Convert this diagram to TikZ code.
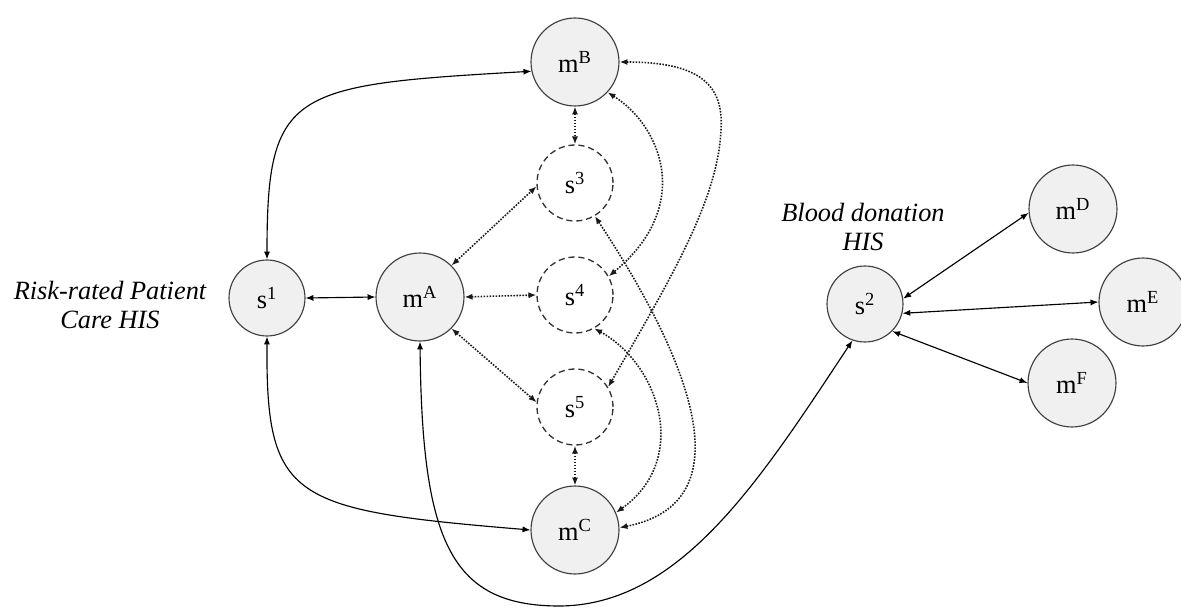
\documentclass[tikz,border=0pt]{standalone}
\usepackage{fontspec}
\setmainfont{LiberationSerif}[Extension=.ttf,UprightFont=*-Regular,ItalicFont=*-Italic,BoldFont=*-Bold,BoldItalicFont=*-BoldItalic]
\usetikzlibrary{arrows.meta}
\begin{document}
\begin{tikzpicture}[x=0.02cm,y=-0.02cm,
  font=\rmfamily\fontsize{15}{17}\selectfont,
  hd/.tip={Latex[length=4.5pt,width=3.5pt]},
  mnode/.style={circle,draw=black!75,line width=0.65pt,fill=black!6,
    minimum size=1.76cm,inner sep=0pt},
  snode/.style={circle,draw=black!75,line width=0.65pt,fill=black!6,
    minimum size=1.52cm,inner sep=0pt},
  ghost/.style={circle,draw=black!80,line width=0.75pt,
    dash pattern=on 3.5pt off 2.2pt,fill=white,
    minimum size=1.52cm,inner sep=0pt},
  link/.style={hd-hd,line width=0.65pt},
  dotlink/.style={hd-hd,line width=0.9pt,black!90,dash pattern=on 0.9pt off 0.8pt},
  syslabel/.style={align=center,font=\rmfamily\itshape\fontsize{15}{17}\selectfont}
]
\useasboundingbox (0,0) rectangle (1181,608);

% services and their modules
\node[snode] (s1) at (267,298) {s\textsuperscript{1}};
\node[mnode] (mA) at (420,297) {m\textsuperscript{A}};
\node[mnode] (mB) at (575,62)  {m\textsuperscript{B}};
\node[ghost] (s3) at (575,183) {s\textsuperscript{3}};
\node[ghost] (s4) at (575,295) {s\textsuperscript{4}};
\node[ghost] (s5) at (575,407) {s\textsuperscript{5}};
\node[mnode] (mC) at (575,530) {m\textsuperscript{C}};

\node[snode] (s2) at (865,304) {s\textsuperscript{2}};
\node[mnode] (mD) at (1073,209) {m\textsuperscript{D}};
\node[mnode] (mE) at (1143,302) {m\textsuperscript{E}};
\node[mnode] (mF) at (1072,383) {m\textsuperscript{F}};

% system names
\node[syslabel] (lblA) at (110,305) {Risk-rated Patient\\Care HIS};
\node[syslabel] (lblB) at (863,227) {Blood donation\\HIS};

% potential (dotted) connections
\draw[dotlink] (mB.south) -- (s3.north);
\draw[dotlink] (s5.south) -- (mC.north);
\draw[dotlink] (mA.45) -- (s3.185);
\draw[dotlink] (mA.east) -- (s4.west);
\draw[dotlink] (mA.-45) -- (s5.173);
\draw[dotlink] (mB.east) .. controls (700,62) and (724,85) .. (721,130)
  .. controls (718,200) and (670,280) .. (s5.31);
\draw[dotlink] (mB.-43) .. controls (660,125) and (695,205) .. (s4.29);
\draw[dotlink] (s4.-60) .. controls (660,365) and (690,460) .. (mC.23);
\draw[dotlink] (s3.-59) .. controls (670,330) and (760,500) .. (mC.3);

% existing (solid) connections
\draw[link] (s1.east) -- (mA.west);
\draw[link] (s1.north) .. controls (267,90) and (290,85) .. (mB.192);
\draw[link] (s1.south) .. controls (266,500) and (290,510) .. (mC.west);
\draw[link] (mA.south) .. controls (422,540) and (450,605) .. (557,606)
  .. controls (680,607) and (760,480) .. (s2.251);
\draw[link] (s2.8) -- (mD.185);
\draw[link] (s2.-14) -- (mE.west);
\draw[link] (s2.-45) -- (mF.west);
\end{tikzpicture}
\end{document}
